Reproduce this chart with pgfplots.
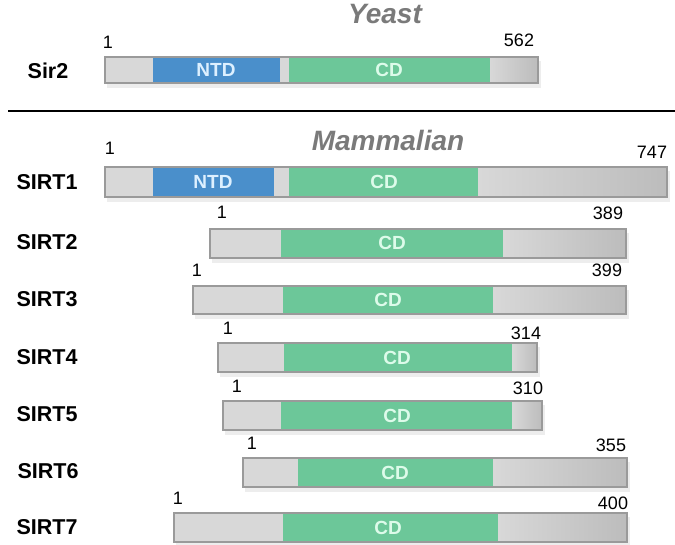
\documentclass[border=0pt]{standalone}
\usepackage{pgfplots}
\pgfplotsset{compat=1.18}
\usepackage{fontspec}
\setmainfont{Liberation Sans}
\definecolor{ntd}{HTML}{4A8FCB}
\definecolor{cd}{HTML}{6CC799}
\definecolor{lg}{HTML}{D8D8D8}
\definecolor{dg}{HTML}{BCBCBC}
\definecolor{bd}{HTML}{9A9A9A}
\definecolor{ttl}{HTML}{7A7A7A}
\definecolor{cdtxt}{HTML}{DDFBEA}
\definecolor{ntdtxt}{HTML}{DDF0FF}
\newcommand{\seg}[5]{\addplot[#5] coordinates {(#1,#3) (#2,#3) (#2,#4) (#1,#4)} -- cycle;}
\newcommand{\prot}[4]{%
  \addplot[draw=none, fill=black, fill opacity=0.07] coordinates {(#1+2,#3+4) (#2+3,#3+4) (#2+3,#4+5) (#1+2,#4+5)} -- cycle;
}
\newcommand{\outl}[4]{\addplot[draw=bd, line width=1.2pt, fill=none] coordinates {(#1,#3) (#2,#3) (#2,#4) (#1,#4)} -- cycle;}
\tikzset{
  dom/.style={font=\bfseries\fontsize{19}{19}\selectfont},
  lab/.style={font=\bfseries\fontsize{21.5}{21.5}\selectfont},
  num/.style={font=\fontsize{18}{18}\selectfont},
  ttlst/.style={font=\bfseries\itshape\fontsize{28}{28}\selectfont, text=ttl},
}
\begin{document}
\begin{tikzpicture}
\begin{axis}[
  width=675pt, height=544pt, scale only axis,
  xmin=0, xmax=675, ymin=0, ymax=544, y dir=reverse,
  hide axis, clip=false]
% ---------- Yeast Sir2 ----------
\prot{105}{538}{57}{83}
\seg{105}{153}{57}{83}{draw=none, fill=lg}
\seg{153}{280}{57}{83}{draw=none, fill=ntd}
\seg{280}{289}{57}{83}{draw=none, fill=lg}
\seg{289}{490}{57}{83}{draw=none, fill=cd}
\seg{490}{538}{57}{83}{draw=none, left color=lg, right color=dg}
\outl{105}{538}{57}{83}
\node[dom, text=ntdtxt] at (axis cs:216,70) {NTD};
\node[dom, text=cdtxt] at (axis cs:389,70) {CD};
\node[lab] at (axis cs:48,71) {Sir2};
\node[num] at (axis cs:108,42) {1};
\node[num] at (axis cs:519,40) {562};
\node[ttlst] at (axis cs:385,14) {Yeast};
% separator
\addplot[black, line width=2pt] coordinates {(8,111) (675,111)};
\node[ttlst] at (axis cs:388,140) {Mammalian};
% ---------- SIRT1 ----------
\prot{105}{667}{167}{197}
\seg{105}{153}{167}{197}{draw=none, fill=lg}
\seg{153}{274}{167}{197}{draw=none, fill=ntd}
\seg{274}{289}{167}{197}{draw=none, fill=lg}
\seg{289}{478}{167}{197}{draw=none, fill=cd}
\seg{478}{667}{167}{197}{draw=none, left color=lg, right color=dg}
\outl{105}{667}{167}{197}
\node[dom, text=ntdtxt] at (axis cs:213,182) {NTD};
\node[dom, text=cdtxt] at (axis cs:384,182) {CD};
\node[lab] at (axis cs:47,182) {SIRT1};
\node[num] at (axis cs:110,148) {1};
\node[num] at (axis cs:652,152) {747};
% ---------- SIRT2 ----------
\prot{210}{626}{229}{258}
\seg{210}{281}{229}{258}{draw=none, fill=lg}
\seg{281}{503}{229}{258}{draw=none, fill=cd}
\seg{503}{626}{229}{258}{draw=none, left color=lg, right color=dg}
\outl{210}{626}{229}{258}
\node[dom, text=cdtxt] at (axis cs:392,243) {CD};
\node[lab] at (axis cs:47,242) {SIRT2};
\node[num] at (axis cs:222,212) {1};
\node[num] at (axis cs:608,213) {389};
% ---------- SIRT3 ----------
\prot{193}{626}{286}{314}
\seg{193}{283}{286}{314}{draw=none, fill=lg}
\seg{283}{493}{286}{314}{draw=none, fill=cd}
\seg{493}{626}{286}{314}{draw=none, left color=lg, right color=dg}
\outl{193}{626}{286}{314}
\node[dom, text=cdtxt] at (axis cs:388,300) {CD};
\node[lab] at (axis cs:47,299) {SIRT3};
\node[num] at (axis cs:197,270) {1};
\node[num] at (axis cs:607,270) {399};
% ---------- SIRT4 ----------
\prot{218}{537}{343}{372}
\seg{218}{284}{343}{372}{draw=none, fill=lg}
\seg{284}{512}{343}{372}{draw=none, fill=cd}
\seg{512}{537}{343}{372}{draw=none, left color=lg, right color=dg}
\outl{218}{537}{343}{372}
\node[dom, text=cdtxt] at (axis cs:397,358) {CD};
\node[lab] at (axis cs:47,357) {SIRT4};
\node[num] at (axis cs:228,328) {1};
\node[num] at (axis cs:526,333) {314};
% ---------- SIRT5 ----------
\prot{223}{542}{401}{430}
\seg{223}{281}{401}{430}{draw=none, fill=lg}
\seg{281}{512}{401}{430}{draw=none, fill=cd}
\seg{512}{542}{401}{430}{draw=none, left color=lg, right color=dg}
\outl{223}{542}{401}{430}
\node[dom, text=cdtxt] at (axis cs:397,416) {CD};
\node[lab] at (axis cs:47,414) {SIRT5};
\node[num] at (axis cs:237,386) {1};
\node[num] at (axis cs:528,388) {310};
% ---------- SIRT6 ----------
\prot{243}{627}{458}{487}
\seg{243}{298}{458}{487}{draw=none, fill=lg}
\seg{298}{493}{458}{487}{draw=none, fill=cd}
\seg{493}{627}{458}{487}{draw=none, left color=lg, right color=dg}
\outl{243}{627}{458}{487}
\node[dom, text=cdtxt] at (axis cs:395,473) {CD};
\node[lab] at (axis cs:48,471) {SIRT6};
\node[num] at (axis cs:252,443) {1};
\node[num] at (axis cs:611,445) {355};
% ---------- SIRT7 ----------
\prot{174}{627}{513}{542}
\seg{174}{283}{513}{542}{draw=none, fill=lg}
\seg{283}{498}{513}{542}{draw=none, fill=cd}
\seg{498}{627}{513}{542}{draw=none, left color=lg, right color=dg}
\outl{174}{627}{513}{542}
\node[dom, text=cdtxt] at (axis cs:388,528) {CD};
\node[lab] at (axis cs:47,527) {SIRT7};
\node[num] at (axis cs:178,498) {1};
\node[num] at (axis cs:613,503) {400};
\end{axis}
\pgfresetboundingbox
\path (0,0) rectangle (675pt,544pt);
\end{tikzpicture}
\end{document}
